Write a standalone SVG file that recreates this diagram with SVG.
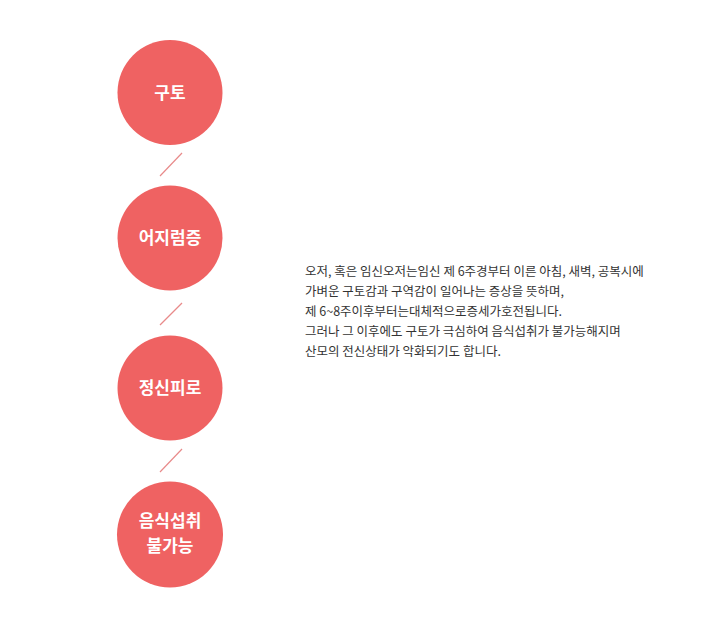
<svg xmlns="http://www.w3.org/2000/svg" width="710" height="635" viewBox="0 0 710 635">
<style>
.c{fill:#ef6262}
.lb{font-family:"Noto Sans CJK KR","Noto Sans",sans-serif;font-size:17px;font-weight:bold;fill:#fff;text-anchor:middle}
.tx{font-family:"Noto Sans CJK KR","Noto Sans",sans-serif;font-size:12.5px;fill:#333}
.ln{stroke:#e88a8a;stroke-width:1.2}
</style>
<rect width="710" height="635" fill="#fff"/>
<g id="connectors">
<line class="ln" x1="182" y1="153" x2="160" y2="176"/>
<line class="ln" x1="182" y1="303" x2="160" y2="325"/>
<line class="ln" x1="182" y1="449" x2="160" y2="472"/>
</g>
<g id="n1"><circle class="c" cx="170" cy="92.5" r="52.5"/><text class="lb" x="170" y="99">구토</text></g>
<g id="n2"><circle class="c" cx="170" cy="238" r="52.5"/><text class="lb" x="170" y="244">어지럼증</text></g>
<g id="n3"><circle class="c" cx="170" cy="388" r="52.5"/><text class="lb" x="170" y="394">정신피로</text></g>
<g id="n4"><circle class="c" cx="170" cy="534.5" r="53"/><text class="lb" x="170" y="527">음식섭취</text><text class="lb" x="170" y="552">불가능</text></g>
<g id="desc">
<text class="tx" x="305" y="276">오저, 혹은 임신오저는임신 제 6주경부터 이른 아침, 새벽, 공복시에</text>
<text class="tx" x="305" y="296">가벼운 구토감과 구역감이 일어나는 증상을 뜻하며,</text>
<text class="tx" x="305" y="316">제 6~8주이후부터는대체적으로증세가호전됩니다.</text>
<text class="tx" x="305" y="336">그러나 그 이후에도 구토가 극심하여 음식섭취가 불가능해지며</text>
<text class="tx" x="305" y="356">산모의 전신상태가 악화되기도 합니다.</text>
</g>
</svg>
